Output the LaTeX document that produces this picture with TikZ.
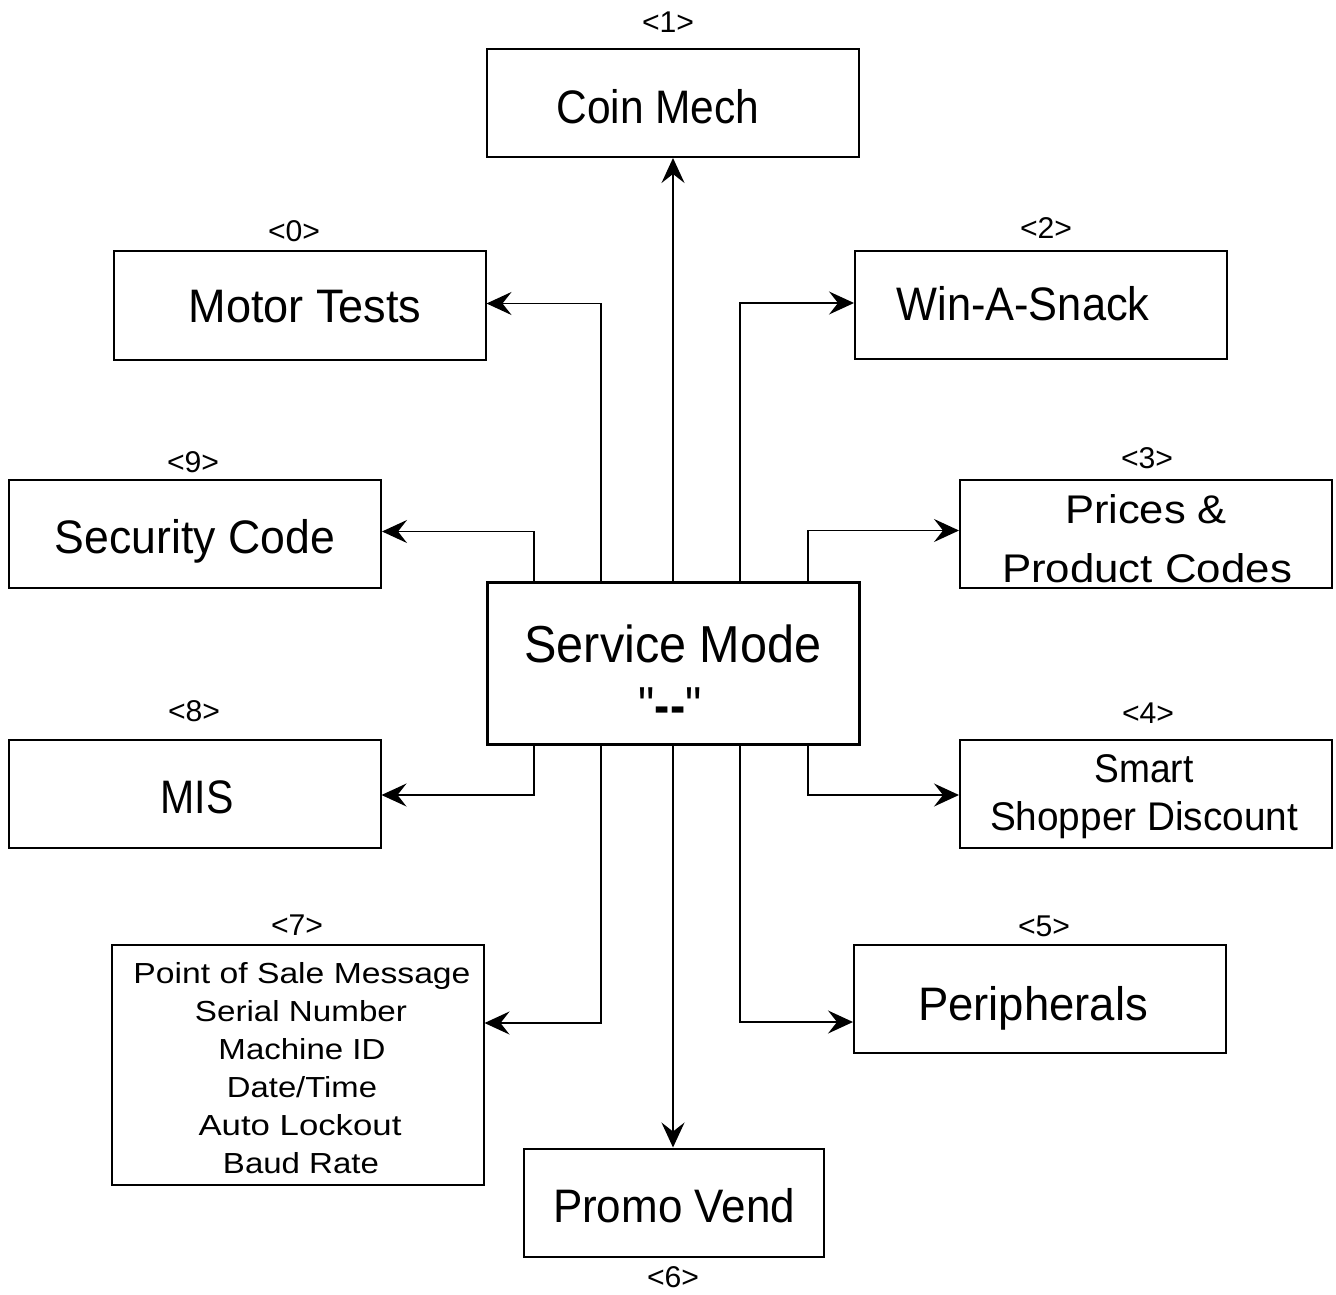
\documentclass[tikz,border=0pt]{standalone}
\usepackage{fontspec}
\setmainfont{Liberation Sans}
\newfontfamily\rawf{Liberation Sans}[Ligatures=TeXOff]
\usetikzlibrary{arrows.meta}
\newcommand{\fw}[2]{\resizebox{#1}{\height}{#2}}
\begin{document}
\begin{tikzpicture}[x=0.5pt,y=-0.5pt,
  box/.style={draw, line width=1pt, inner sep=0pt, minimum width=186pt, minimum height=54pt},
  txt/.style={anchor=base, inner sep=0pt, font=\fontsize{23.5}{28}\selectfont},
  mid/.style={anchor=base, inner sep=0pt, font=\fontsize{20}{24}\selectfont},
  big/.style={anchor=base, inner sep=0pt, font=\fontsize{26}{30}\selectfont},
  lst/.style={anchor=base, inner sep=0pt, font=\fontsize{14.5}{17}\selectfont},
  num/.style={anchor=base, inner sep=0pt, font=\fontsize{15}{18}\selectfont},
  arr/.style={line width=0.75pt, -{Stealth[length=12.5pt,width=11.5pt,inset=4.5pt]}}]
\useasboundingbox (0,0) rectangle (1336,1294);
% boxes
\node[box] (cm) at (673,103) {};
\node[box] (mt) at (299.5,305.5) {};
\node[box] (ws) at (1041,305) {};
\node[box] (sc) at (195,533.5) {};
\node[box] (pp) at (1146,533.5) {};
\node[box, line width=1.5pt, minimum height=81pt] (sm) at (673,663) {};
\node[box] (mis) at (194.5,793.5) {};
\node[box] (ss) at (1146,793.5) {};
\node[box, minimum height=120pt] (pos) at (297.5,1065) {};
\node[box] (per) at (1040,999) {};
\node[box, minimum width=150pt] (pv) at (674,1202.5) {};
% texts
\node[txt] (cmt) at (658,124) {\fw{101.5pt}{Coin Mech}};
\node[txt] (mtt) at (305,323) {\fw{116.5pt}{Motor Tests}};
\node[txt] (sct) at (195,553) {\fw{140pt}{Security Code}};
\node[txt] (wst) at (1023,320) {\fw{126.5pt}{Win-A-Snack}};
\node[mid] (ppt1) at (1146,523) {\fw{81pt}{Prices \&}};
\node[mid] (ppt2) at (1147,582) {\fw{145pt}{Product Codes}};
\node[mid] (sst1) at (1144,782) {\fw{49.5pt}{Smart}};
\node[mid] (sst2) at (1144,830) {\fw{154pt}{Shopper Discount}};
\node[txt] (mist) at (197,813) {\fw{36.5pt}{MIS}};
\node[txt] (pert) at (1033,1020) {\fw{115pt}{Peripherals}};
\node[txt] (pvt) at (674,1222) {\fw{121pt}{Promo Vend}};
\node[big] (smt1) at (673,662) {\fw{148.5pt}{Service Mode}};
\node[big] (smt2) at (670,723) {\fw{31.5pt}{\rawf"\textbf{--}"}};
\node[lst] (l1) at (302,983) {\fw{168.5pt}{Point of Sale Message}};
\node[lst] (l2) at (301,1021) {\fw{106pt}{Serial Number}};
\node[lst] (l3) at (302,1059) {\fw{83.5pt}{Machine ID}};
\node[lst] (l4) at (302,1097) {\fw{75pt}{Date/Time}};
\node[lst] (l5) at (300,1135) {\fw{101.5pt}{Auto Lockout}};
\node[lst] (l6) at (301,1173) {\fw{78pt}{Baud Rate}};
% key labels
\node[num] (k1) at (668,33) {\fw{26pt}{<1>}};
\node[num] (k0) at (294,242) {\fw{26pt}{<0>}};
\node[num] (k2) at (1046,239) {\fw{26pt}{<2>}};
\node[num] (k9) at (193,472) {\fw{26pt}{<9>}};
\node[num] (k3) at (1147,468) {\fw{26pt}{<3>}};
\node[num] (k8) at (194,721) {\fw{26pt}{<8>}};
\node[num] (k4) at (1148,723) {\fw{26pt}{<4>}};
\node[num] (k7) at (297,935) {\fw{26pt}{<7>}};
\node[num] (k5) at (1044,936) {\fw{26pt}{<5>}};
\node[num] (k6) at (673,1287) {\fw{26pt}{<6>}};
% connectors
\draw[arr] (sm.north) -- (sm.north |- cm.south);
\draw[arr] ([xshift=-36pt]sm.north) |- ([yshift=1pt]mt.east);
\draw[arr] ([xshift=-69.5pt]sm.north) |- ([yshift=1pt]sc.east);
\draw[arr] ([xshift=33.5pt]sm.north) |- ([yshift=1pt]ws.west);
\draw[arr] ([xshift=67.5pt]sm.north) |- ([yshift=1.5pt]pp.west);
\draw[arr] ([xshift=-69.5pt]sm.south) |- ([yshift=-0.75pt]mis.east);
\draw[arr] ([xshift=67.5pt]sm.south) |- ([yshift=-0.75pt]ss.west);
\draw[arr] ([xshift=-36pt]sm.south) |- ([yshift=21pt]pos.east);
\draw[arr] ([xshift=33.5pt]sm.south) |- ([yshift=-11.5pt]per.west);
\draw[arr] (sm.south) -- (sm.south |- pv.north);
\end{tikzpicture}
\end{document}
